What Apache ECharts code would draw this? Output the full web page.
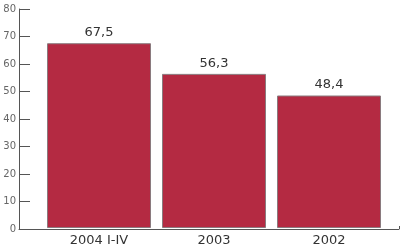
<!DOCTYPE html>
<html>
<head>
<meta charset="utf-8">
<script src="https://cdn.jsdelivr.net/npm/echarts@6/dist/echarts.min.js"></script>
<style>html,body{margin:0;padding:0;background:#fff}#c{width:400px;height:247px}</style>
</head>
<body>
<div id="c"></div>
<script>
var categories = ['2004 I-IV', '2003', '2002'];
var values = [67.5, 56.3, 48.4];
var yTicks = [0, 10, 20, 30, 40, 50, 60, 70, 80];

var chart = echarts.init(document.getElementById('c'), null, {renderer: 'canvas'});
var axisColor = '#555';
var font = 'DejaVu Sans';
chart.setOption({
  animation: false,
  grid: [
    {left: 19, right: 1, top: 9, bottom: 18},
    {left: 41.5, right: 13.5, top: 9, bottom: 18}
  ],
  xAxis: [
    {gridIndex: 0, type: 'value', min: 0, max: 1, interval: 1,
     axisLine: {show: true, lineStyle: {color: axisColor, width: 1}},
     axisTick: {show: true, inside: true, length: 3, lineStyle: {color: axisColor}},
     axisLabel: {show: false}, splitLine: {show: false}},
    {gridIndex: 1, type: 'category', data: categories,
     axisLine: {show: false}, axisTick: {show: false}, splitLine: {show: false},
     axisLabel: {margin: 6, color: '#333', fontFamily: font, fontSize: 13}}
  ],
  yAxis: [
    {gridIndex: 0, type: 'value', min: yTicks[0], max: yTicks[yTicks.length - 1], interval: 10,
     axisLine: {show: true, lineStyle: {color: axisColor, width: 1}},
     axisTick: {show: true, inside: true, length: 11, lineStyle: {color: axisColor}},
     axisLabel: {margin: 3, color: '#666', fontFamily: font, fontSize: 10},
     splitLine: {show: false}},
    {gridIndex: 1, type: 'value', min: yTicks[0], max: yTicks[yTicks.length - 1], show: false}
  ],
  series: [{
    type: 'bar', xAxisIndex: 1, yAxisIndex: 1,
    data: values, barWidth: 104,
    itemStyle: {color: '#b42a42', borderColor: '#8a7a7e', borderWidth: 1},
    label: {show: true, position: 'top', distance: 4, color: '#333', fontFamily: font, fontSize: 13,
      formatter: function (p) { return p.value.toFixed(1).replace('.', ','); }}
  }]
});
</script>
</body>
</html>
